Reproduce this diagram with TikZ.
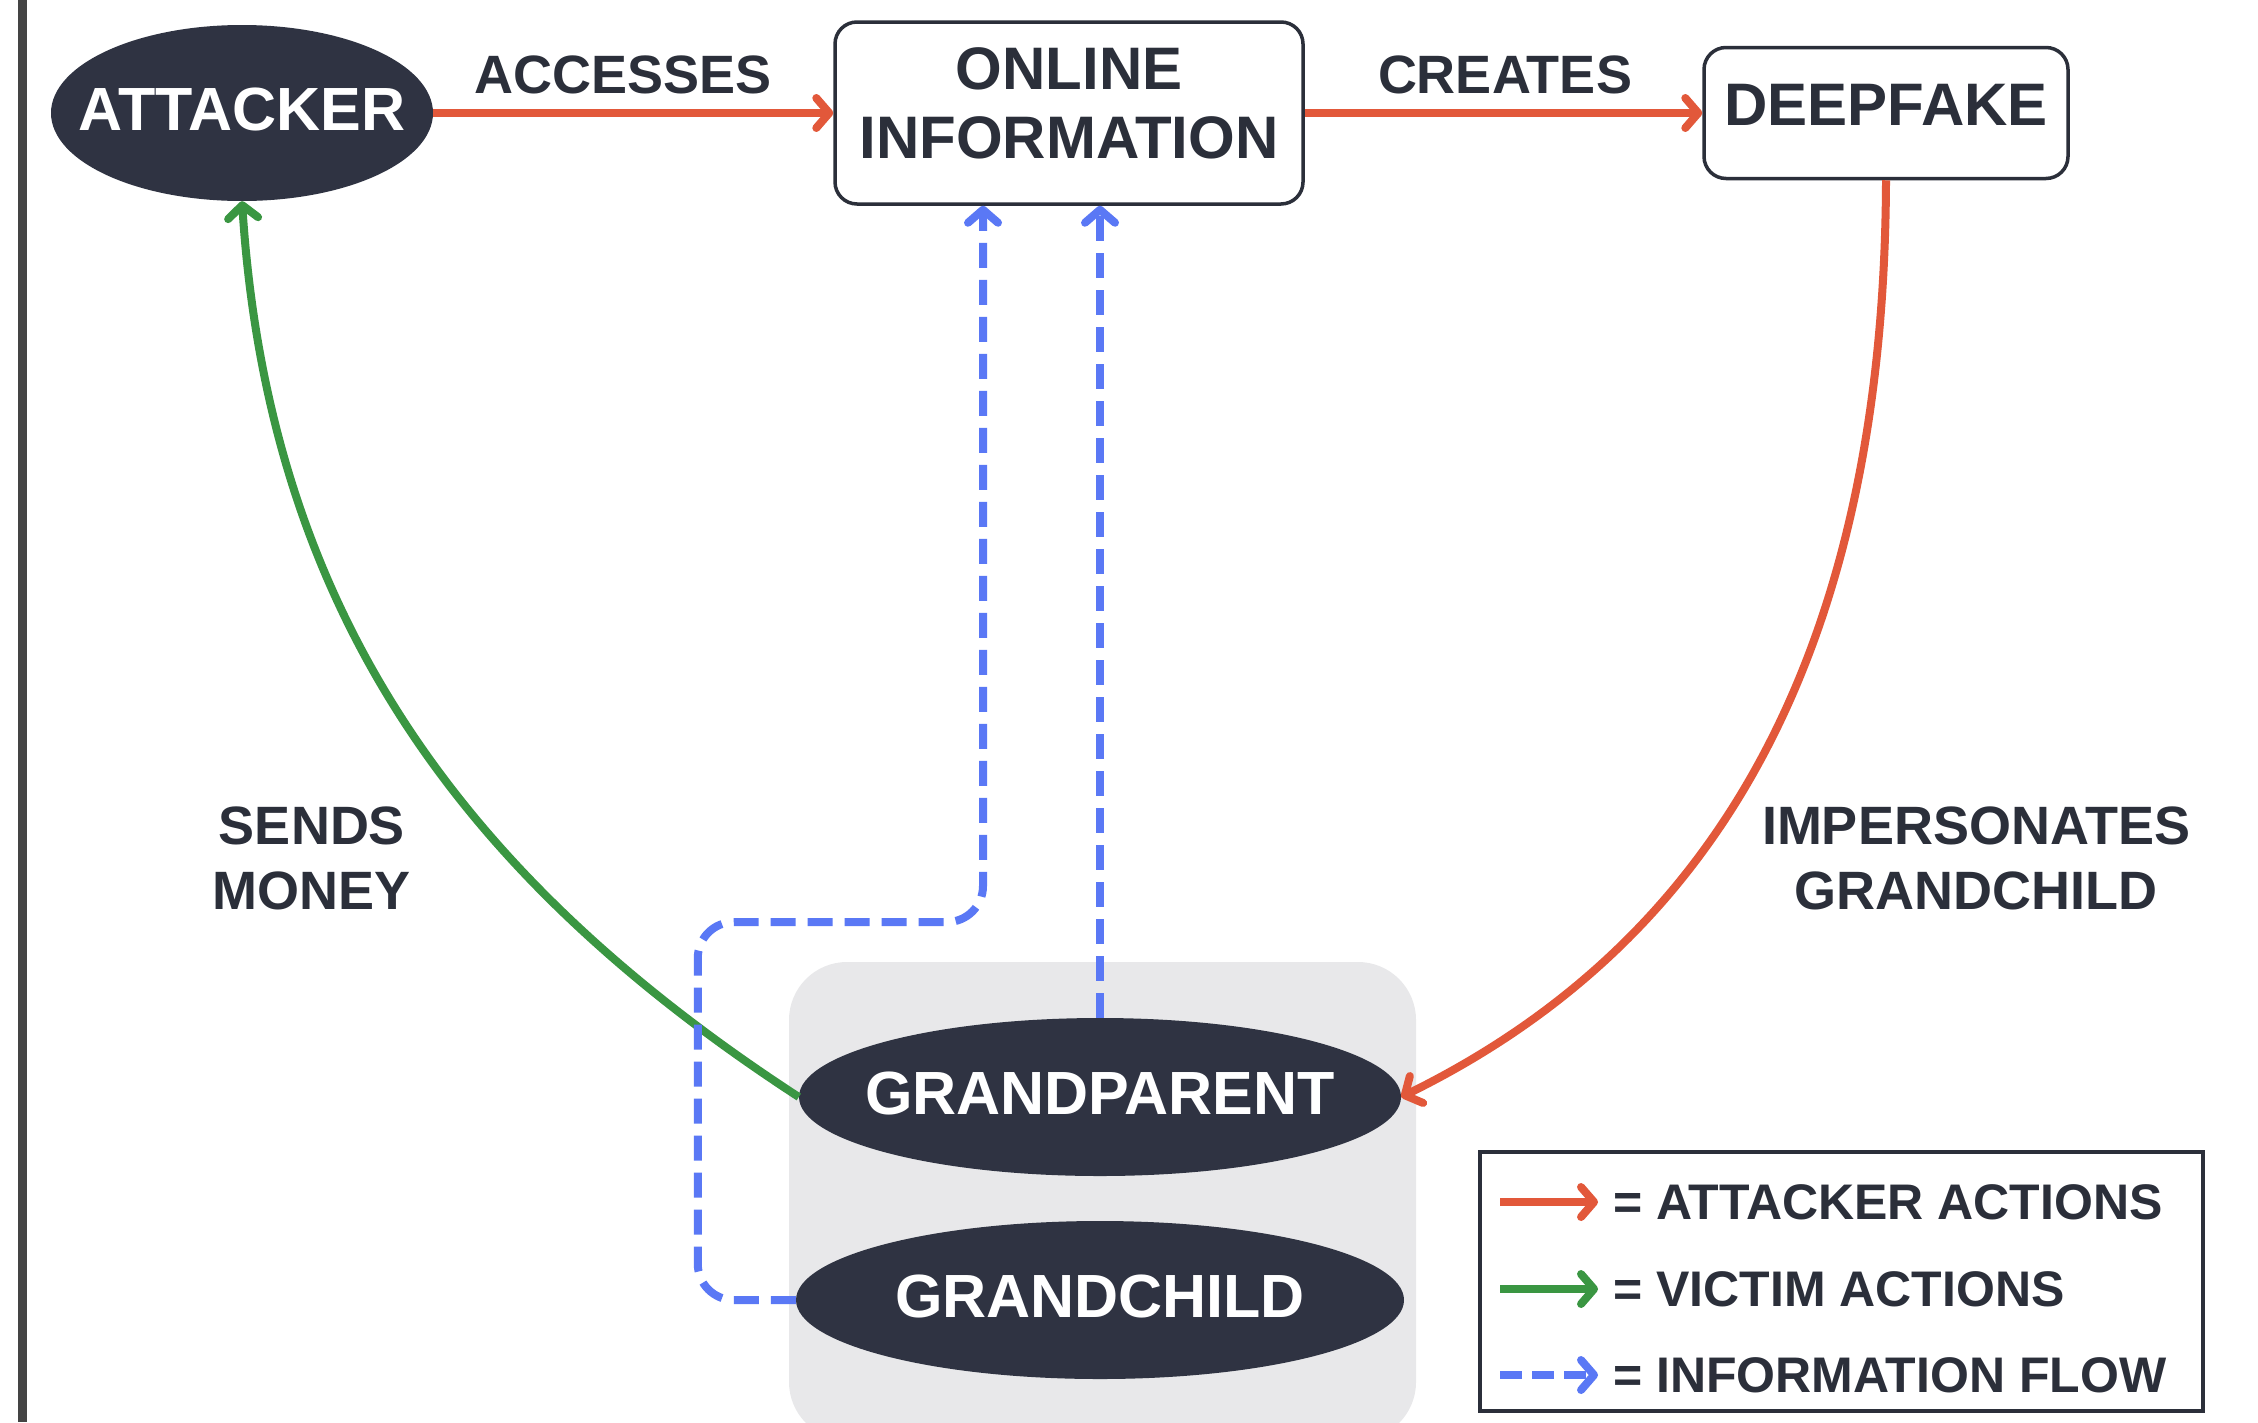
\documentclass[tikz,border=0pt]{standalone}
\usepackage{fontspec}
\setmainfont{Liberation Sans}
\usetikzlibrary{arrows.meta,shapes.geometric,calc}
\definecolor{navy}{HTML}{2F3342}
\definecolor{txt}{HTML}{2B2F3A}
\definecolor{orng}{HTML}{E2583A}
\definecolor{grn}{HTML}{3A9642}
\definecolor{blu}{HTML}{5A78F5}
\definecolor{greyfill}{HTML}{E8E8EA}
\definecolor{barcol}{HTML}{444444}
\newcommand{\elltext}[1]{\makebox[0pt]{\raisebox{8pt}{#1}}}
\tikzset{
  darkell/.style={ellipse, fill=navy, text=white, inner sep=0pt, font=\bfseries\fontsize{61}{69}\selectfont},
  whitebox/.style={rectangle, rounded corners=22pt, draw=txt, line width=3.5pt, fill=white, text=txt, align=center, inner sep=0pt, font=\bfseries\fontsize{60}{69}\selectfont},
  lbl/.style={text=txt, align=center, inner sep=0pt, font=\bfseries\fontsize{54}{65}\selectfont},
  legtxt/.style={text=txt, anchor=west, inner sep=0pt, font=\bfseries\fontsize{50}{60}\selectfont},
  tip/.style={-{Straight Barb[length=13pt,width=30pt,round]}},
  attk/.style={tip, draw=orng, line width=8pt},
  vict/.style={tip, draw=grn, line width=8pt},
  info/.style={tip, draw=blu, line width=8pt, dash pattern=on 25pt off 12pt},
}
\begin{document}
\begin{tikzpicture}[x=1pt,y=1pt]
\useasboundingbox (0,0) rectangle (2258,-1422);
\fill[white] (0,0) rectangle (2258,-1422);
\fill[barcol] (18,0) rectangle (27,-1422);
\begin{scope}
\clip (0,0) rectangle (2258,-1422);
\fill[greyfill, rounded corners=58pt] (789,-962) rectangle (1416,-1440);
\end{scope}

\node[darkell, minimum width=382pt, minimum height=176pt] (attacker) at (242,-113) {\elltext{ATTACKER}};
\node[whitebox, minimum width=468pt, minimum height=182pt, text depth=20pt] (online) at (1069,-113) {ONLINE\\INFORMATION};
\node[whitebox, minimum width=364pt, minimum height=131pt, text depth=16pt] (deepfake) at (1886,-113) {DEEPFAKE};
\node[darkell, minimum width=602pt, minimum height=158pt] (gp) at (1100,-1097) {\elltext{GRANDPARENT}};
\node[darkell, minimum width=608pt, minimum height=158pt] (gc) at (1100,-1300) {\elltext{GRANDCHILD}};

\node[lbl] (accesses) at (623,-75) {ACCESSES};
\node[lbl] (creates) at (1505,-75) {CREATES};
\node[lbl] (sends) at (312,-858) {SENDS\\MONEY};
\node[lbl] (imp) at (1976,-858) {IMPERSONATES\\GRANDCHILD};

\draw[attk] (attacker.east) -- (online.west);
\draw[attk] (online.east) -- (deepfake.west);
\draw[attk] (deepfake.south) .. controls (1884,-700) and (1680,-960) .. (gp.east);
\draw[vict] (gp.west) .. controls (450,-870) and (268,-600) .. (attacker.south);

\coordinate (b1) at (983,-922);
\draw[info, rounded corners=36pt] (gc.west) -- ++(-98,0) |- (b1) -- (b1 |- online.south);
\draw[info] (gp.north) -- (gp.north |- online.south);

% legend
\node[draw=txt, line width=4pt, fill=white, minimum width=723pt, minimum height=259pt, inner sep=0pt] (legend) at (1841,-1281) {};
\coordinate (l1a) at (1500,-1202); \coordinate (l1b) at (1598,-1202);
\coordinate (l2a) at (1500,-1289); \coordinate (l2b) at (1598,-1289);
\coordinate (l3a) at (1500,-1375); \coordinate (l3b) at (1598,-1375);
\draw[attk] (l1a) -- (l1b);
\draw[vict] (l2a) -- (l2b);
\draw[info, dash pattern=on 22pt off 10pt] (l3a) -- (l3b);
\node[legtxt] (lt1) at (1613,-1202) {= ATTACKER ACTIONS};
\node[legtxt] (lt2) at (1613,-1289) {= VICTIM ACTIONS};
\node[legtxt] (lt3) at (1613,-1375) {= INFORMATION FLOW};
\end{tikzpicture}
\end{document}
